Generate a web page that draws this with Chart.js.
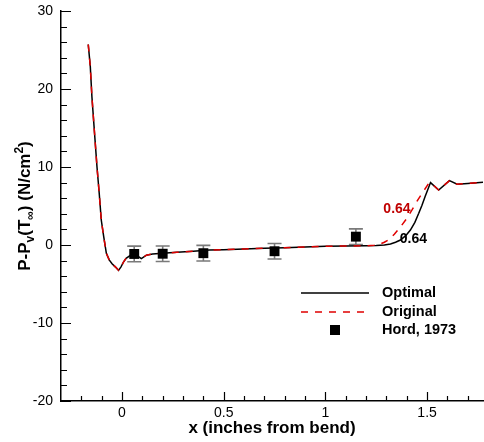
<!DOCTYPE html>
<html>
<head>
<meta charset="utf-8">
<script src="https://cdn.jsdelivr.net/npm/chart.js@4.4.1/dist/chart.umd.min.js"></script>
<style>
  html, body { margin: 0; padding: 0; background: #fff; }
  #wrap { width: 484px; height: 442px; }
</style>
</head>
<body>
<div id="wrap"><canvas id="pressureChart" width="484" height="442"></canvas></div>
<script>
// Pressure curve shared by both shapes (up to roughly x = 1.2)
const xShared = [-0.166, -0.156, -0.148, -0.135, -0.123, -0.112, -0.102, -0.09, -0.077, -0.063, -0.049, -0.033, -0.017, -0.005, 0.008, 0.02, 0.04, 0.07, 0.095, 0.12, 0.15, 0.2, 0.27, 0.35, 0.43, 0.5, 0.6, 0.7, 0.8, 0.9, 1.0, 1.1, 1.2];
const yShared = [25.7, 22.9, 19.0, 14.3, 10.0, 6.6, 3.2, 1.06, -1.07, -1.9, -2.4, -2.8, -3.25, -2.8, -2.15, -1.7, -1.35, -1.3, -1.75, -1.3, -1.15, -1.05, -0.94, -0.8, -0.65, -0.6, -0.51, -0.42, -0.34, -0.25, -0.17, -0.12, -0.1];

// Optimal shape after the bend region
const xOptimalTail = [1.25, 1.29, 1.32, 1.345, 1.369, 1.395, 1.418, 1.44, 1.459, 1.475, 1.49, 1.517, 1.557, 1.61, 1.648, 1.7, 1.775];
const yOptimalTail = [-0.07, 0.0, 0.13, 0.35, 0.64, 1.2, 1.92, 2.9, 4.06, 5.1, 6.2, 8.0, 7.05, 8.25, 7.8, 7.9, 8.05];

// Original shape after the bend region
const xOriginalTail = [1.24, 1.27, 1.29, 1.31, 1.34, 1.37, 1.4, 1.426, 1.45, 1.475, 1.508, 1.517, 1.557, 1.61, 1.648, 1.7, 1.775];
const yOriginalTail = [-0.02, 0.13, 0.35, 0.64, 1.4, 2.35, 3.4, 4.5, 5.6, 6.6, 7.9, 8.0, 7.05, 8.25, 7.8, 7.9, 8.05];

// Hord, 1973 experiment
const hordX = [0.06, 0.2, 0.4, 0.75, 1.15];
const hordY = [-1.15, -1.12, -1.05, -0.8, 1.07];
const hordErr = [1.0, 1.0, 1.0, 1.0, 1.0];

// Axis ticks
const xMajorTicks = [0, 0.5, 1, 1.5];
const xMinorTicks = [-0.2, -0.1, 0.1, 0.2, 0.3, 0.4, 0.6, 0.7, 0.8, 0.9, 1.1, 1.2, 1.3, 1.4, 1.6, 1.7];
const yMajorTicks = [-20, -10, 0, 10, 20, 30];
const yMinorTicks = [-18, -16, -14, -12, -8, -6, -4, -2, 2, 4, 6, 8, 12, 14, 16, 18, 22, 24, 26, 28];

// Value labels on the plot
const annotations = [
    { text: '0.64', x: 1.285, y: 4.6, color: '#c00000' },
    { text: '0.64', x: 1.366, y: 0.75, color: '#000000' }
];

const toPoints = (xs, ys) => xs.map((x, i) => ({ x: x, y: ys[i] }));
const optimalPoints = toPoints(xShared.concat(xOptimalTail), yShared.concat(yOptimalTail));
const originalPoints = toPoints(xShared.concat(xOriginalTail), yShared.concat(yOriginalTail));
const hordPoints = toPoints(hordX, hordY);

const FONT = '"Liberation Sans", Arial, Helvetica, sans-serif';
const RED = '#e00000';

Chart.defaults.font.family = FONT;
Chart.defaults.color = '#000';

// Inward tick marks on the left and bottom axes
const axisTicksPlugin = {
    id: 'axisTicks',
    afterDatasetsDraw(chart) {
        const { ctx, chartArea: a, scales: { x, y } } = chart;
        ctx.save();
        ctx.strokeStyle = '#000';
        ctx.lineWidth = 1.2;
        ctx.beginPath();
        const xTick = (v, len) => {
            const px = Math.round(x.getPixelForValue(v)) + 0.5;
            ctx.moveTo(px, a.bottom);
            ctx.lineTo(px, a.bottom - len);
        };
        const yTick = (v, len) => {
            const py = Math.round(y.getPixelForValue(v)) + 0.5;
            ctx.moveTo(a.left, py);
            ctx.lineTo(a.left + len, py);
        };
        xMajorTicks.forEach(v => xTick(v, 9));
        xMinorTicks.forEach(v => xTick(v, 5));
        yMajorTicks.forEach(v => yTick(v, 10));
        yMinorTicks.forEach(v => yTick(v, 6));
        ctx.stroke();
        ctx.restore();
    }
};

// Error bars behind the Hord markers
const errorBarPlugin = {
    id: 'errorBars',
    beforeDatasetsDraw(chart) {
        const { ctx, scales: { x, y } } = chart;
        ctx.save();
        ctx.strokeStyle = '#7a7a7a';
        ctx.lineWidth = 1.6;
        ctx.beginPath();
        hordX.forEach((xv, i) => {
            const px = x.getPixelForValue(xv);
            const top = y.getPixelForValue(hordY[i] + hordErr[i]);
            const bot = y.getPixelForValue(hordY[i] - hordErr[i]);
            ctx.moveTo(px, top); ctx.lineTo(px, bot);
            ctx.moveTo(px - 7, top); ctx.lineTo(px + 7, top);
            ctx.moveTo(px - 7, bot); ctx.lineTo(px + 7, bot);
        });
        ctx.stroke();
        ctx.restore();
    }
};

// Y title with sub/superscripts, legend box and value labels
const decorPlugin = {
    id: 'decor',
    afterDraw(chart) {
        const { ctx, chartArea: a, scales: { x, y } } = chart;
        ctx.save();

        // y axis title
        const parts = [
            { t: 'P-P', s: 17, dy: 0 },
            { t: 'v', s: 12, dy: 4 },
            { t: '(T', s: 17, dy: 0 },
            { t: '\u221E', s: 12, dy: 4 },
            { t: ') (N/cm', s: 17, dy: 0 },
            { t: '2', s: 12, dy: -7 },
            { t: ')', s: 17, dy: 0 }
        ];
        let total = 0;
        parts.forEach(p => { ctx.font = `bold ${p.s}px ${FONT}`; p.w = ctx.measureText(p.t).width; total += p.w; });
        ctx.translate(30, (a.top + a.bottom) / 2);
        ctx.rotate(-Math.PI / 2);
        ctx.fillStyle = '#000';
        ctx.textBaseline = 'alphabetic';
        ctx.textAlign = 'left';
        let cx = -total / 2;
        parts.forEach(p => { ctx.font = `bold ${p.s}px ${FONT}`; ctx.fillText(p.t, cx, p.dy); cx += p.w; });
        ctx.setTransform(1, 0, 0, 1, 0, 0);

        // legend
        const lx = a.left + 240, tx = a.left + 321;
        const rows = [a.top + 282, a.top + 301, a.top + 319];
        ctx.lineWidth = 1.5;
        ctx.strokeStyle = '#000';
        ctx.beginPath(); ctx.moveTo(lx, rows[0]); ctx.lineTo(lx + 68, rows[0]); ctx.stroke();
        ctx.strokeStyle = RED;
        ctx.setLineDash([7, 7]);
        ctx.beginPath(); ctx.moveTo(lx, rows[1]); ctx.lineTo(lx + 68, rows[1]); ctx.stroke();
        ctx.setLineDash([]);
        ctx.fillStyle = '#000';
        ctx.fillRect(lx + 34 - 5, rows[2] - 5, 10, 10);
        ctx.font = `bold 14.5px ${FONT}`;
        ctx.textBaseline = 'middle';
        ['Optimal', 'Original', 'Hord, 1973'].forEach((label, i) => ctx.fillText(label, tx, rows[i]));

        // value labels
        ctx.font = `bold 14px ${FONT}`;
        annotations.forEach(n => {
            ctx.fillStyle = n.color;
            ctx.fillText(n.text, x.getPixelForValue(n.x), y.getPixelForValue(n.y));
        });
        ctx.restore();
    }
};

new Chart(document.getElementById('pressureChart'), {
    type: 'scatter',
    data: {
        datasets: [
            { label: 'Optimal', data: optimalPoints, showLine: true, borderColor: '#000', borderWidth: 1.5, pointRadius: 0, tension: 0, order: 3 },
            { label: 'Original', data: originalPoints, showLine: true, borderColor: RED, borderWidth: 1.5, borderDash: [7, 7], pointRadius: 0, tension: 0, order: 2 },
            { label: 'Hord, 1973', data: hordPoints, showLine: false, pointStyle: 'rect', pointRadius: 7, backgroundColor: '#000', borderWidth: 0, order: 1 }
        ]
    },
    options: {
        responsive: false,
        animation: false,
        layout: { autoPadding: false, padding: { left: 0, top: 11, right: 1, bottom: 0 } },
        plugins: { legend: { display: false }, tooltip: { enabled: false } },
        scales: {
            x: {
                type: 'linear',
                min: -0.3,
                max: 1.775,
                grid: { display: false, drawTicks: false },
                border: { display: true, color: '#000', width: 1.5 },
                afterBuildTicks: scale => { scale.ticks = xMajorTicks.map(v => ({ value: v })); },
                afterFit: scale => { scale.height = 41; scale.paddingLeft = 0; scale.paddingRight = 0; },
                ticks: { font: { size: 14 }, color: '#000', padding: 4, maxRotation: 0, autoSkip: false, callback: v => String(v) },
                title: { display: true, text: 'x (inches from bend)', font: { size: 17, weight: 'bold' }, color: '#000', padding: { top: 0, bottom: 3 } }
            },
            y: {
                type: 'linear',
                min: -20,
                max: 30,
                grid: { display: false, drawTicks: false },
                border: { display: true, color: '#000', width: 1.5 },
                afterBuildTicks: scale => { scale.ticks = yMajorTicks.map(v => ({ value: v })); },
                afterFit: scale => { scale.width = 61; scale.paddingTop = 0; scale.paddingBottom = 0; },
                ticks: { font: { size: 14 }, color: '#000', padding: 8, autoSkip: false, callback: v => String(v) }
            }
        }
    },
    plugins: [axisTicksPlugin, errorBarPlugin, decorPlugin]
});
</script>
</body>
</html>
